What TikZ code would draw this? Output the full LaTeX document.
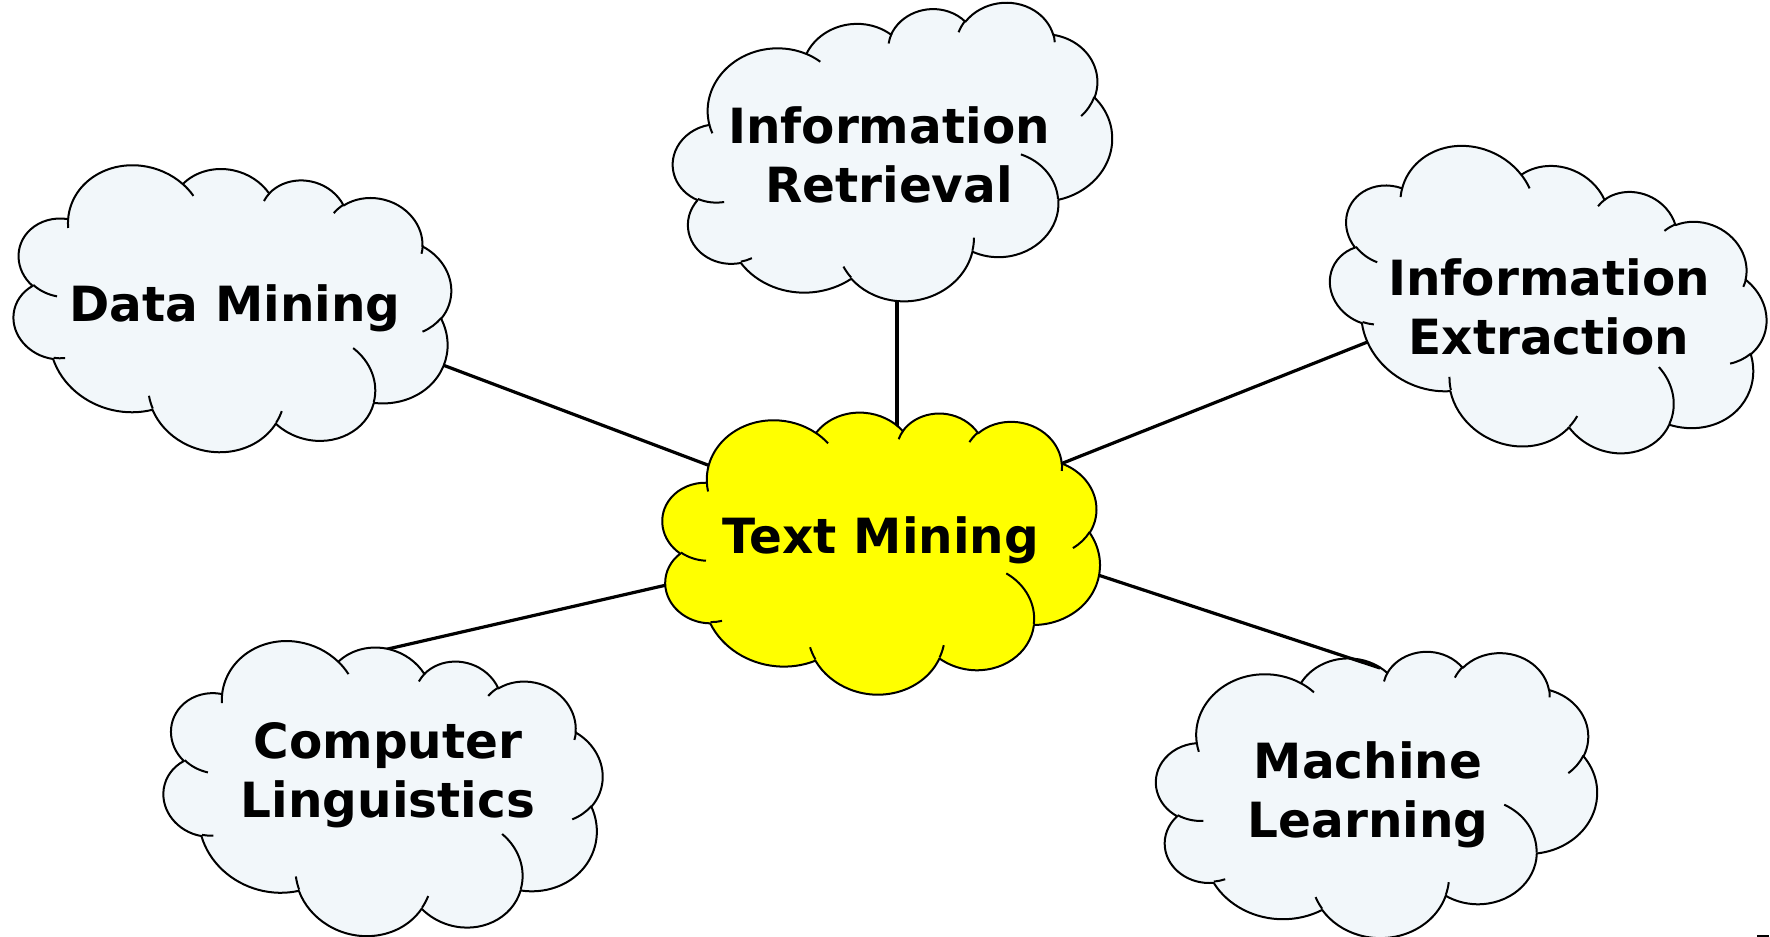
\documentclass[tikz,border=0pt]{standalone}
\usepackage{fontspec}
\setmainfont{DejaVu Sans}
\pgfdeclarelayer{bg}
\pgfsetlayers{bg,main}
\definecolor{cloudfill}{RGB}{242,247,250}
\definecolor{tmfill}{RGB}{255,255,0}
\tikzset{
  carc/.style n args={4}{x radius=#1, y radius=#2,
    start angle={atan2(#1*sin(#3),#2*cos(#3))},
    end angle={atan2(#1*sin(#3),#2*cos(#3))+mod(atan2(#1*sin(#3+#4),#2*cos(#3+#4))-atan2(#1*sin(#3),#2*cos(#3))+720,360)}},
  cloudline/.style={draw=black, line width=2pt, line join=round},
  cloudtext/.style={font=\bfseries\fontsize{48.5}{59}\selectfont, align=center, inner sep=0pt, text=black},
  link/.style={draw=black, line width=3.2pt}
}
% #1 cx, #2 cy, #3 width, #4 height, #5 rotation, #6 fill colour
\newcommand\drawmycloud[6]{%
\begin{scope}[shift={(#1,#2)}, rotate=#5, xscale=#3/43.2, yscale=#4/43.2, shift={(-21.6,-21.6)}]
  \filldraw[cloudline, fill=#6] (3.9,14.37)
    arc[carc={6.753}{9.190}{-190.4875}{123.7805}]
    arc[carc={5.333}{7.267}{-144.1024}{89.9452}]
    arc[carc={4.365}{5.945}{-145.8079}{99.7230}]
    arc[carc={4.857}{6.595}{-130.9861}{117.2417}]
    arc[carc={5.333}{7.273}{-78.7089}{109.0269}]
    arc[carc={6.775}{9.220}{-46.2673}{130.2690}]
    arc[carc={5.785}{7.867}{0.6250}{114.0333}]
    arc[carc={6.752}{9.215}{22.4516}{115.1726}]
    arc[carc={7.720}{10.543}{66.2426}{75.7110}]
    arc[carc={4.360}{5.918}{-274.9421}{146.7356}]
    arc[carc={4.345}{5.945}{-246.8285}{152.5189}]
    -- cycle;
  \draw[cloudline]
    (4.693,26.177) arc[carc={4.345}{5.945}{86.742}{26.4295}]
    (6.928,34.899) arc[carc={4.360}{5.918}{73.6105}{11.4475}]
    (16.478,39.090) arc[carc={6.752}{9.215}{137.6242}{14.0811}]
    (28.827,34.751) arc[carc={6.752}{9.215}{6.4533}{15.9984}]
    (34.129,22.954) arc[carc={5.785}{7.867}{-70.2924}{70.9174}]
    (41.798,15.354) arc[carc={5.333}{7.273}{30.3180}{27.7515}]
    (38.324,5.426) arc[carc={4.857}{6.595}{-13.7443}{14.8589}]
    (29.078,3.952) arc[carc={4.857}{6.595}{-149.1815}{18.1954}]
    (22.141,4.720) arc[carc={4.365}{5.945}{-163.4943}{17.6864}]
    (14.000,5.192) arc[carc={6.753}{9.190}{-66.7070}{12.3194}]
    (4.127,15.789) arc[carc={6.753}{9.190}{157.6544}{11.8582}];
\end{scope}}
\begin{document}
\begin{tikzpicture}[x=1pt, y=-1pt]
\useasboundingbox (0,0) rectangle (1770,937);
% clouds
\drawmycloud{880.5}{550}{440}{287}{-6.5}{tmfill}
\drawmycloud{231.5}{308.5}{440}{287}{-14}{cloudfill}
\drawmycloud{893}{156.5}{440}{289}{5}{cloudfill}
\drawmycloud{1546.5}{306}{440}{287}{-24.5}{cloudfill}
\drawmycloud{382}{790}{440}{293}{-16}{cloudfill}
\drawmycloud{1376.5}{793.5}{441}{287}{-1}{cloudfill}
% texts
\node[cloudtext] (tm) at (881,540.5) {Text Mining};
\node[cloudtext] (dm) at (235,308.5) {Data Mining};
\node[cloudtext] (ir) at (889,155) {Information\\Retrieval};
\node[cloudtext] (ie) at (1549,306.5) {Information\\Extraction};
\node[cloudtext] (cl) at (388,775.5) {Computer\\Linguistics};
\node[cloudtext] (ml) at (1368,795) {Machine\\Learning};
% connector ends
\coordinate (tm-dm) at (714.4,467.5); \coordinate (dm-tm) at (433.6,361.5);
\coordinate (tm-ie) at (1053.7,466.7); \coordinate (ie-tm) at (1374.3,339.3);
\coordinate (tm-cl) at (671.7,583.8); \coordinate (cl-tm) at (383,650.1);
\coordinate (tm-ml) at (1099,575.3); \coordinate (ml-tm) at (1380,668);
\coordinate (tm-ir) at (897,430); \coordinate (ir-tm) at (897,292);
\begin{pgfonlayer}{bg}
\draw[link] (tm-dm) -- (dm-tm);
\draw[link] (tm-ie) -- (ie-tm);
\draw[link] (tm-cl) -- (cl-tm);
\draw[link] (tm-ir) -- (ir-tm);
\end{pgfonlayer}
\draw[link] (tm-ml) -- (ml-tm);
\coordinate (mk1) at (1757,936); \coordinate (mk2) at (1769,936);
\draw[line width=2pt] (mk1) -- (mk2);
\end{tikzpicture}
\end{document}
